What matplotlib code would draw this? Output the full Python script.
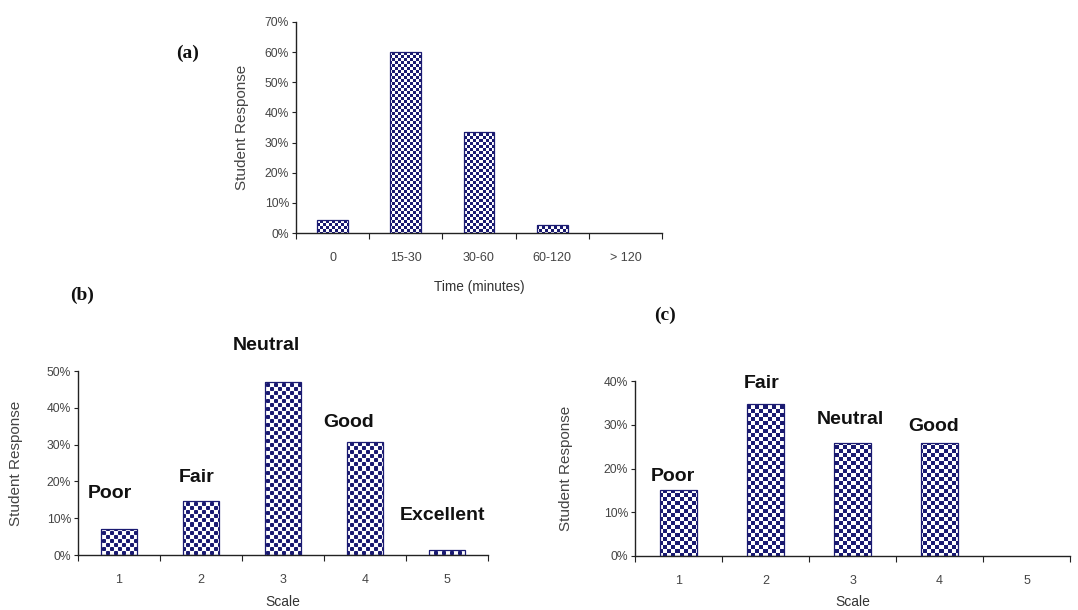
import numpy as np
import matplotlib
matplotlib.use('Agg')
import matplotlib.pyplot as plt
from matplotlib.ticker import FuncFormatter, FixedLocator

# ---------------- data ----------------
time_cats = ['0', '15-30', '30-60', '60-120', '> 120']
time_vals = [0.043, 0.600, 0.334, 0.027, 0.0]

scale_cats = ['1', '2', '3', '4', '5']
b_vals = [0.070, 0.147, 0.470, 0.308, 0.014]
b_names = ['Poor', 'Fair', 'Neutral', 'Good', 'Excellent']

c_vals = [0.150, 0.347, 0.258, 0.258, 0.0]
c_names = ['Poor', 'Fair', 'Neutral', 'Good']

a_yticks = [0, 0.1, 0.2, 0.3, 0.4, 0.5, 0.6, 0.7]
b_yticks = [0, 0.1, 0.2, 0.3, 0.4, 0.5]
c_yticks = [0, 0.1, 0.2, 0.3, 0.4]

# ---------------- layout / style ----------------
W, H = 1078, 610
NAVY = '#1b1b72'
AXC = '#222222'
TICKC = '#444444'
SANS = ['Liberation Sans', 'DejaVu Sans']
SERIF = ['Liberation Serif', 'DejaVu Serif']

# label placement (x in category units, y in data units)
b_label_pos = [(-0.11, 0.168), (0.95, 0.211), (1.80, 0.569), (2.80, 0.360), (3.94, 0.108)]
c_label_pos = [(-0.06, 0.181), (0.96, 0.395), (1.97, 0.311), (2.93, 0.295)]

fig = plt.figure(figsize=(W / 100, H / 100), dpi=100)
fig.patch.set_facecolor('white')


def add_axes_px(l, r, b, t):
    return fig.add_axes([l / W, 1 - b / H, (r - l) / W, (b - t) / H])


def texture(kind, wpx, hpx, cell):
    s = 4
    yy, xx = np.mgrid[0:hpx * s, 0:wpx * s] / s + 0.5 / s
    navy = np.array(matplotlib.colors.to_rgb(NAVY))
    if kind == 'checker':
        m = ((np.floor(xx / cell) + np.floor(yy / cell)) % 2 == 0).astype(float)
    else:
        cx = (np.floor(xx / cell) + 0.5) * cell
        cy = (np.floor(yy / cell) + 0.5) * cell
        on = ((np.floor(xx / cell) + np.floor(yy / cell)) % 2 == 0)
        d = np.hypot(xx - cx, yy - cy)
        m = (on & (d < 0.62 * cell)).astype(float)
        for dx in (-1, 1):
            for dy in (-1, 1):
                d2 = np.hypot(xx - (cx + dx * cell), yy - (cy + dy * cell))
                m = np.maximum(m, ((~on) & (d2 < 0.62 * cell)).astype(float))
    m = m.reshape(hpx, s, wpx, s).mean(axis=(1, 3))
    img = 1 - m[..., None] * (1 - navy[None, None, :])
    return img


def style_axes(ax, cats, yticks, ymax, xlabel, xlab_size, ylab_x, xlab_y):
    for sp in ['top', 'right']:
        ax.spines[sp].set_visible(False)
    for sp in ['left', 'bottom']:
        ax.spines[sp].set_color(AXC)
        ax.spines[sp].set_linewidth(1.0)
    ax.set_xlim(-0.5, len(cats) - 0.5)
    ax.set_ylim(0, ymax)
    ax.set_yticks(yticks)
    ax.yaxis.set_major_formatter(FuncFormatter(lambda v, p: f'{v * 100:.0f}%'))
    ax.set_xticks(range(len(cats)))
    ax.set_xticklabels(cats)
    ax.xaxis.set_minor_locator(FixedLocator(np.arange(-0.5, len(cats), 1.0)))
    ax.tick_params(axis='y', direction='out', length=3, width=0.8, color=AXC,
                   labelsize=8.7, labelcolor=TICKC, pad=2)
    ax.tick_params(axis='x', which='major', length=0, labelsize=9,
                   labelcolor=TICKC, pad=14)
    ax.tick_params(axis='x', which='minor', direction='out', length=4,
                   width=0.8, color=AXC)
    for lab in ax.get_xticklabels() + ax.get_yticklabels():
        lab.set_fontfamily(SANS)
    ax.set_ylabel('Student Response', fontsize=11, color=TICKC, family=SANS)
    ax.set_xlabel(xlabel, fontsize=xlab_size, color='#333333', family=SANS)
    ax.yaxis.set_label_coords(ylab_x, 0.5)
    ax.xaxis.set_label_coords(0.5, xlab_y)
    ax.set_facecolor('none')


def draw_bars(ax, vals, width, kind, cell, box, ymax):
    l, r, b, t = box
    tex = texture(kind, r - l, b - t, cell)
    x = np.arange(len(vals))
    bars = ax.bar(x, vals, width, facecolor='none', edgecolor=NAVY,
                  linewidth=0.9, zorder=3)
    for rect, v in zip(bars, vals):
        if v <= 0:
            rect.set_linewidth(0)
        im = ax.imshow(tex, extent=(-0.5, len(vals) - 0.5, 0, ymax),
                       origin='upper', interpolation='nearest',
                       aspect='auto', zorder=2)
        im.set_clip_path(rect)
    return bars


# ---------------- panel (a) ----------------
box_a = (296, 662, 233, 22)
ax_a = add_axes_px(*box_a)
draw_bars(ax_a, time_vals, 0.42, 'checker', 3, box_a, 0.7)
style_axes(ax_a, time_cats, a_yticks, 0.7, 'Time (minutes)', 9.8, -0.128, -0.223)

# ---------------- panel (b) ----------------
box_b = (78, 488, 555, 371)
ax_b = add_axes_px(*box_b)
draw_bars(ax_b, b_vals, 0.43, 'balls', 4, box_b, 0.5)
style_axes(ax_b, scale_cats, b_yticks, 0.5, 'Scale', 10, -0.134, -0.215)
for name, (px, py) in zip(b_names, b_label_pos):
    ax_b.text(px, py, name, ha='center', va='center', fontsize=14,
              fontweight='bold', family=SANS, color='#111111', clip_on=False)

# ---------------- panel (c) ----------------
box_c = (635, 1070, 556, 381)
ax_c = add_axes_px(*box_c)
draw_bars(ax_c, c_vals, 0.43, 'checker', 4, box_c, 0.4)
style_axes(ax_c, scale_cats, c_yticks, 0.4, 'Scale', 10, -0.1425, -0.22)
for name, (px, py) in zip(c_names, c_label_pos):
    ax_c.text(px, py, name, ha='center', va='center', fontsize=14,
              fontweight='bold', family=SANS, color='#111111', clip_on=False)

# ---------------- panel letters ----------------
for lab, (px, py) in zip(['(a)', '(b)', '(c)'], [(188, 53), (82, 295), (665, 315)]):
    fig.text(px / W, 1 - py / H, lab, ha='center', va='center', fontsize=14,
             fontweight='bold', family=SERIF, color='#111111')

fig.savefig('out.png', dpi=100, facecolor='white')
